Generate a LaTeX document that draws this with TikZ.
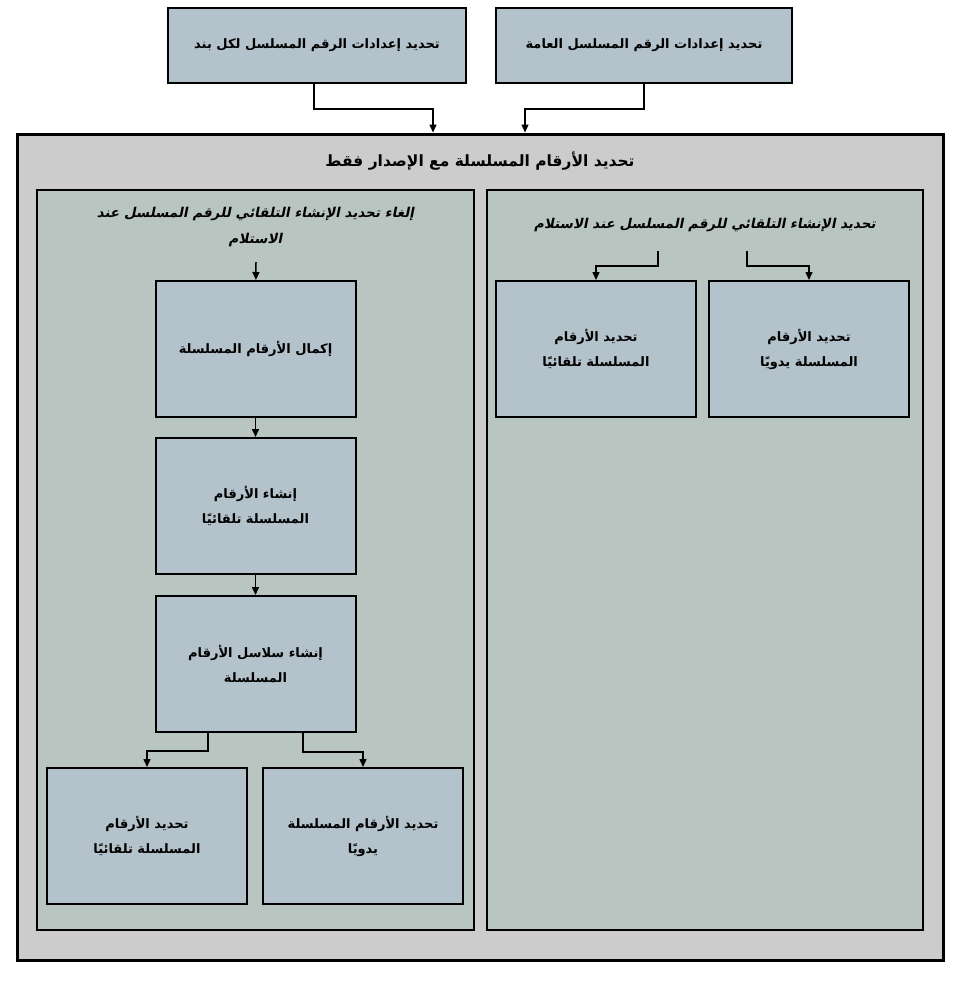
\documentclass[tikz,border=0pt]{standalone}
\usepackage{fontspec}
\usetikzlibrary{arrows.meta, positioning}
\TeXXeTstate=1
\newfontfamily\arabicfont[Script=Arabic]{DejaVu Sans}
\newfontfamily\arabicslant[Script=Arabic,FakeSlant=0.2]{DejaVu Sans Bold}
\newcommand{\arline}[1]{\beginR #1\endR}
\definecolor{framegray}{HTML}{CCCCCC}
\definecolor{panelgreen}{HTML}{B9C5C0}
\definecolor{boxblue}{HTML}{B4C2CB}

\begin{document}
\begin{tikzpicture}[
    x=1pt, y=-1pt,
    node distance=19pt,
    box/.style={rectangle, draw, line width=2pt, fill=boxblue, align=center,
                minimum width=200pt, minimum height=136pt,
                font=\arabicfont\bfseries\fontsize{13}{25}\selectfont},
    topbox/.style={box, minimum height=75pt},
    frame/.style={rectangle, draw, line width=3pt, fill=framegray,
                  minimum width=926pt, minimum height=826pt},
    panel/.style={rectangle, draw, line width=2pt, fill=panelgreen,
                  minimum width=437pt, minimum height=740pt},
    title/.style={align=center, font=\arabicfont\bfseries\fontsize{15.5}{20}\selectfont},
    subtitle/.style={align=center, font=\arabicslant\fontsize{13.5}{26}\selectfont},
    arrow/.style={-{Triangle[length=8pt, width=7pt]}, line width=1.5pt}
]
\useasboundingbox (0,0) rectangle (960,988);

% Settings boxes on top
\node[topbox, minimum width=298pt] (item) at (317,45.5) {\arline{تحديد إعدادات الرقم المسلسل لكل بند}};
\node[topbox, minimum width=296pt] (general) at (644,45.5) {\arline{تحديد إعدادات الرقم المسلسل العامة}};

% Main frame
\node[frame] (main) at (480,547) {};
\node[title] (maintitle) at (480,161) {\arline{تحديد الأرقام المسلسلة مع الإصدار فقط}};

\draw[arrow] ([xshift=-3pt]item.south) -- ++(0,25) -| ([xshift=-47pt]main.north);
\draw[arrow] (general.south) -- ++(0,25) -| ([xshift=45pt]main.north);

% Left panel: auto creation off
\node[panel] (offpanel) at (255.5,560) {};
\node[subtitle] (offtitle) at (255.5,227) {\arline{إلغاء تحديد الإنشاء التلقائي للرقم المسلسل عند}\\\arline{الاستلام}};
\coordinate (offin) at (256,262);

\node[box] (complete) at (255.5,349) {\arline{إكمال الأرقام المسلسلة}};
\node[box, below=of complete] (autocreate) {\arline{إنشاء الأرقام}\\\arline{المسلسلة تلقائيًا}};
\node[box, below=20pt of autocreate] (series) {\arline{إنشاء سلاسل الأرقام}\\\arline{المسلسلة}};
\node[box, below=34pt of series, xshift=-108.5pt] (offauto) {\arline{تحديد الأرقام}\\\arline{المسلسلة تلقائيًا}};
\node[box, below=34pt of series, xshift=107.5pt] (offmanual) {\arline{تحديد الأرقام المسلسلة}\\\arline{يدويًا}};

\draw[arrow] (offin) -- (complete);
\draw[arrow] (complete) -- (autocreate);
\draw[arrow] (autocreate) -- (series);
\draw[arrow] ([xshift=-47.5pt]series.south) -- ++(0,18) -| (offauto.north);
\draw[arrow] ([xshift=47.5pt]series.south) -- ++(0,19) -| (offmanual.north);

% Right panel: auto creation on
\node[panel, minimum width=436pt] (onpanel) at (705,560) {};
\node[subtitle] (ontitle) at (705,225) {\arline{تحديد الإنشاء التلقائي للرقم المسلسل عند الاستلام}};
\coordinate (onsplitL) at (658,251);
\coordinate (onsplitR) at (747,251);

\node[box] (onauto) at (596,349) {\arline{تحديد الأرقام}\\\arline{المسلسلة تلقائيًا}};
\node[box, right=11pt of onauto] (onmanual) {\arline{تحديد الأرقام}\\\arline{المسلسلة يدويًا}};

\draw[arrow] (onsplitL) -- ++(0,15) -| (onauto.north);
\draw[arrow] (onsplitR) -- ++(0,15) -| (onmanual.north);

\end{tikzpicture}
\end{document}
